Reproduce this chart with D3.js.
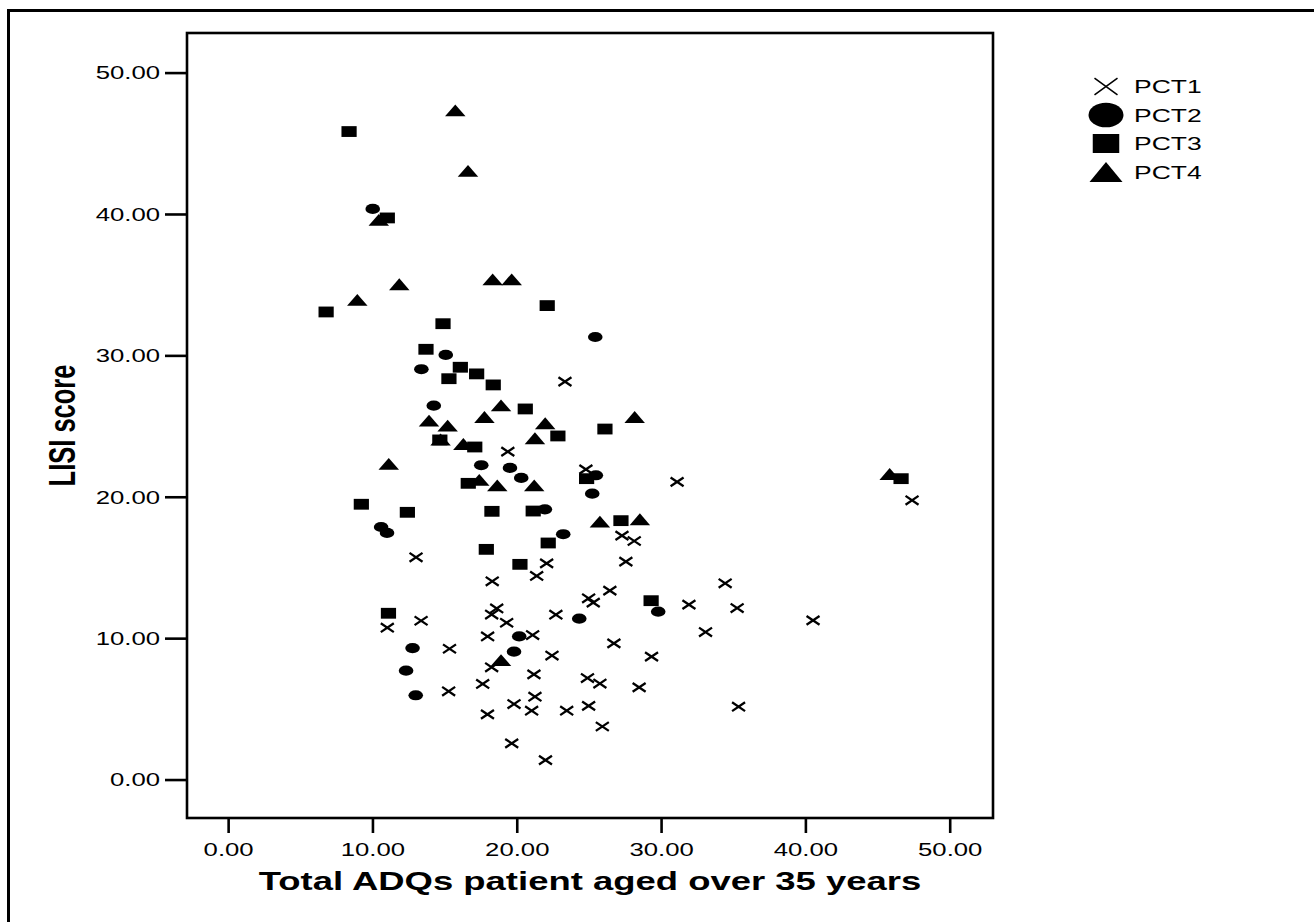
<!DOCTYPE html>
<html>
<head>
<meta charset="utf-8">
<script src="https://cdn.jsdelivr.net/npm/d3@7"></script>
<style>
  html, body { margin: 0; padding: 0; background: #fff; }
  svg { display: block; }
  text { font-family: "Liberation Sans", Arial, Helvetica, sans-serif; fill: #000; }
</style>
</head>
<body>
<svg id="chart" width="1314" height="922"></svg>
<script>
// ---------------- DATA ----------------
const xTickValues = [0, 10, 20, 30, 40, 50];
const xTickLabels = ["0.00", "10.00", "20.00", "30.00", "40.00", "50.00"];
const yTickValues = [0, 10, 20, 30, 40, 50];
const yTickLabels = ["0.00", "10.00", "20.00", "30.00", "40.00", "50.00"];
const xTitle = "Total ADQs patient aged over 35 years";
const yTitle = "LISI score";
const seriesNames = ["PCT1", "PCT2", "PCT3", "PCT4"];

// PCT1 (crosses): [x, y]
const pct1 = [
  [23.34, 28.14], [19.38, 23.19], [24.79, 21.94], [31.11, 21.05], [47.39, 19.75],
  [27.29, 17.25], [28.14, 16.87], [13.02, 15.72], [22.07, 15.29], [27.56, 15.41],
  [21.38, 14.40], [18.30, 14.02], [34.44, 13.88], [26.45, 13.36], [24.98, 12.82],
  [25.30, 12.51], [31.93, 12.37], [35.27, 12.13], [18.61, 12.10], [18.26, 11.67],
  [22.71, 11.66], [13.37, 11.23], [40.53, 11.26], [19.30, 11.09], [11.03, 10.74],
  [33.08, 10.43], [17.98, 10.12], [21.10, 10.22], [26.73, 9.63], [15.34, 9.25],
  [29.34, 8.69], [22.44, 8.77], [18.26, 7.94], [21.19, 7.44], [17.64, 6.76],
  [24.90, 7.18], [25.76, 6.79], [28.48, 6.52], [15.28, 6.24], [19.81, 5.34],
  [21.26, 5.86], [21.03, 4.87], [24.98, 5.21], [17.97, 4.61], [23.46, 4.87],
  [35.37, 5.15], [25.93, 3.75], [19.65, 2.56], [21.99, 1.37]
];
// PCT2 (circles)
const pct2 = [
  [10.02, 40.36], [25.44, 31.30], [15.08, 30.03], [13.39, 29.02], [14.25, 26.44],
  [17.54, 22.23], [19.53, 22.04], [25.48, 21.52], [20.31, 21.33], [25.23, 20.22],
  [21.95, 19.11], [10.60, 17.86], [11.01, 17.44], [23.22, 17.35], [24.33, 11.38],
  [29.80, 11.87], [20.17, 10.12], [12.78, 9.30], [19.81, 9.04], [12.33, 7.70],
  [13.00, 5.96]
];
// PCT3 (squares)
const pct3 = [
  [8.38, 45.83], [11.03, 39.72], [6.79, 33.07], [22.11, 33.52], [14.89, 32.24],
  [13.71, 30.43], [16.09, 29.16], [15.30, 28.35], [17.22, 28.69], [18.37, 27.91],
  [20.59, 26.21], [26.11, 24.79], [22.85, 24.30], [14.67, 24.02], [17.09, 23.52],
  [24.84, 21.28], [46.63, 21.28], [16.64, 20.95], [9.23, 19.47], [12.42, 18.90],
  [18.28, 18.97], [21.14, 18.99], [27.22, 18.31], [22.18, 16.73], [17.89, 16.28],
  [20.22, 15.22], [29.31, 12.65], [11.11, 11.76]
];
// PCT4 (triangles)
const pct4 = [
  [15.74, 47.33], [16.62, 43.05], [10.44, 39.58], [11.86, 35.03], [8.95, 33.92],
  [18.33, 35.38], [19.65, 35.38], [18.91, 26.46], [13.92, 25.38], [15.21, 25.03],
  [17.76, 25.64], [21.97, 25.20], [28.17, 25.64], [21.26, 24.14], [14.72, 24.05],
  [16.30, 23.73], [11.13, 22.32], [17.40, 21.19], [18.65, 20.81], [21.21, 20.81],
  [45.84, 21.61], [25.76, 18.24], [28.53, 18.41], [18.91, 8.45]
];
const seriesData = [pct1, pct2, pct3, pct4];
const seriesShapes = ["cross", "circle", "square", "triangle"];

// ---------------- LAYOUT ----------------
const SX = 1.43; // horizontal stretch of the original picture
const plot = { left: 187, right: 993, top: 33, bottom: 818 };
const x = d3.scaleLinear().domain([-2.85, 53.0]).range([plot.left, plot.right]);
const y = d3.scaleLinear().domain([-2.72, 52.8]).range([plot.bottom, plot.top]);

const svg = d3.select("#chart");

// outer frame (clipped at right/bottom)
svg.append("rect")
  .attr("x", 8.5).attr("y", 10.5).attr("width", 1400).attr("height", 1000)
  .attr("fill", "none").attr("stroke", "#000").attr("stroke-width", 3);

// plot frame
svg.append("rect")
  .attr("x", plot.left).attr("y", plot.top)
  .attr("width", plot.right - plot.left).attr("height", plot.bottom - plot.top)
  .attr("fill", "none").attr("stroke", "#000").attr("stroke-width", 2.6);

// y axis
const yAxis = d3.axisLeft(y).tickValues(yTickValues)
  .tickFormat((d, i) => yTickLabels[i]).tickSize(22).tickSizeOuter(0);
const gy = svg.append("g").attr("transform", `translate(${plot.left},0)`).call(yAxis);
gy.select(".domain").remove();
gy.selectAll(".tick line").attr("stroke", "#000").attr("stroke-width", 2.6);
gy.selectAll(".tick text")
  .attr("x", null).attr("dy", null)
  .attr("transform", `translate(-27,6.4) scale(${SX},1)`)
  .attr("text-anchor", "end")
  .style("font-size", "18px").style("font-family", "'Liberation Sans', Arial, sans-serif")
  .attr("fill", "#000");

// x axis
const xAxis = d3.axisBottom(x).tickValues(xTickValues)
  .tickFormat((d, i) => xTickLabels[i]).tickSize(15).tickSizeOuter(0);
const gx = svg.append("g").attr("transform", `translate(0,${plot.bottom})`).call(xAxis);
gx.select(".domain").remove();
gx.selectAll(".tick line").attr("stroke", "#000").attr("stroke-width", 2.6);
gx.selectAll(".tick text")
  .attr("y", null).attr("dy", null)
  .attr("transform", `translate(0,38) scale(${SX},1)`)
  .attr("text-anchor", "middle")
  .style("font-size", "18px").style("font-family", "'Liberation Sans', Arial, sans-serif")
  .attr("fill", "#000");

// axis titles
svg.append("text")
  .attr("transform", `translate(${(plot.left + plot.right) / 2},890) scale(${SX},1)`)
  .attr("text-anchor", "middle")
  .style("font-size", "25.5px").style("font-weight", "bold")
  .text(xTitle);

svg.append("text")
  .attr("transform", `translate(75,${(plot.top + plot.bottom) / 2}) scale(${SX},1) rotate(-90)`)
  .attr("text-anchor", "middle")
  .style("font-size", "25.5px").style("font-weight", "bold")
  .text(yTitle);

// ---------------- MARKERS ----------------
function drawMarker(g, shape, cx, cy, big) {
  const k = big ? 1 : 0;
  if (shape === "cross") {
    const hw = big ? 11.5 : 6.5, hh = big ? 8.3 : 4.4, sw = big ? 1.6 : 2.3;
    g.append("path")
      .attr("d", `M${cx - hw},${cy - hh}L${cx + hw},${cy + hh}M${cx - hw},${cy + hh}L${cx + hw},${cy - hh}`)
      .attr("stroke", "#000").attr("stroke-width", sw).attr("fill", "none");
  } else if (shape === "circle") {
    g.append("ellipse").attr("cx", cx).attr("cy", cy)
      .attr("rx", big ? 17.5 : 7.3).attr("ry", big ? 12.3 : 5.1).attr("fill", "#000");
  } else if (shape === "square") {
    const w = big ? 26.5 : 15.2, h = big ? 19 : 10.8;
    g.append("rect").attr("x", cx - w / 2).attr("y", cy - h / 2)
      .attr("width", w).attr("height", h).attr("fill", "#000");
  } else {
    const w = big ? 33 : 20.5, h = big ? 20 : 11.8;
    g.append("path")
      .attr("d", `M${cx},${cy - h / 2}L${cx + w / 2},${cy + h / 2}L${cx - w / 2},${cy + h / 2}Z`)
      .attr("fill", "#000");
  }
}

const gm = svg.append("g");
seriesData.forEach((data, si) => {
  const gs = gm.append("g").attr("class", "series-" + seriesNames[si]);
  data.forEach(d => drawMarker(gs, seriesShapes[si], x(d[0]), y(d[1]), false));
});

// ---------------- LEGEND ----------------
const legend = svg.append("g");
const legendY = d3.scalePoint().domain(seriesNames).range([86.5, 172]);
seriesNames.forEach((name, i) => {
  const cy = legendY(name);
  drawMarker(legend, seriesShapes[i], 1106, cy, true);
  legend.append("text")
    .attr("transform", `translate(1134,${cy + 6.6}) scale(${SX},1)`)
    .style("font-size", "18.5px")
    .text(name);
});
</script>
</body>
</html>
